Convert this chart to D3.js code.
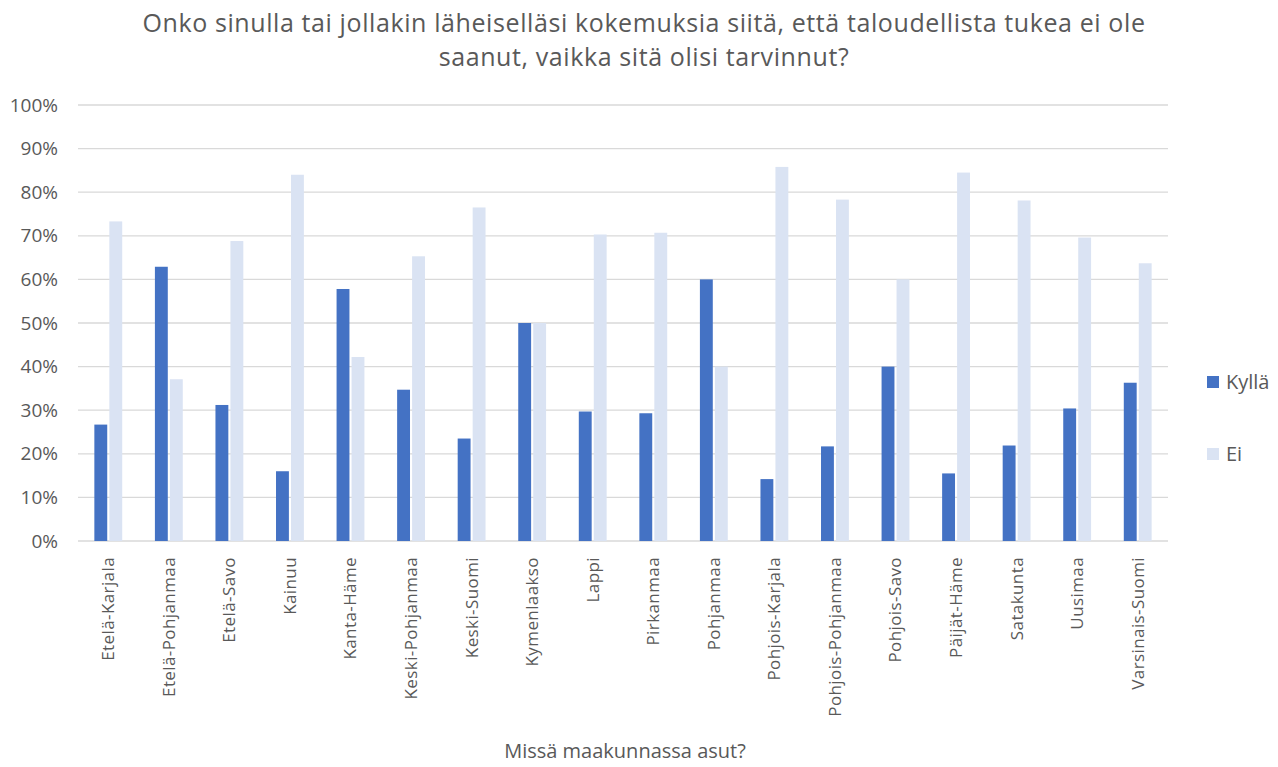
<!doctype html>
<html>
<head>
<meta charset="utf-8">
<title>Taloudellinen tuki</title>
<script src="https://d3js.org/d3.v7.min.js"></script>
<style>
  body { margin: 0; background: #fff; }
  text { font-family: "Open Sans", "Noto Sans", sans-serif; fill: #595959; }
</style>
</head>
<body>
<script>
// data
var regions = ["Etelä-Karjala", "Etelä-Pohjanmaa", "Etelä-Savo", "Kainuu", "Kanta-Häme",
  "Keski-Pohjanmaa", "Keski-Suomi", "Kymenlaakso", "Lappi", "Pirkanmaa", "Pohjanmaa",
  "Pohjois-Karjala", "Pohjois-Pohjanmaa", "Pohjois-Savo", "Päijät-Häme", "Satakunta",
  "Uusimaa", "Varsinais-Suomi"];
var kylla = [0.267, 0.629, 0.312, 0.160, 0.578, 0.347, 0.235, 0.50, 0.297, 0.293, 0.60,
  0.142, 0.217, 0.40, 0.155, 0.219, 0.304, 0.363];
var ei = [0.733, 0.371, 0.688, 0.840, 0.422, 0.653, 0.765, 0.50, 0.703, 0.707, 0.40,
  0.858, 0.783, 0.60, 0.845, 0.781, 0.696, 0.637];
var seriesNames = ["Kyllä", "Ei"];
var yTicks = [0, 0.1, 0.2, 0.3, 0.4, 0.5, 0.6, 0.7, 0.8, 0.9, 1.0];
var titleLines = ["Onko sinulla tai jollakin läheiselläsi kokemuksia siitä, että taloudellista tukea ei ole",
  "saanut, vaikka sitä olisi tarvinnut?"];

var vizWidth = 1278, vizHeight = 767;
var margin = {top: 105, right: 110, bottom: 226, left: 78};
var plotWidth = vizWidth - margin.left - margin.right,
    plotHeight = vizHeight - margin.top - margin.bottom;

var color = d3.scaleOrdinal().domain(seriesNames).range(["#4472C4", "#DAE3F3"]);

var svg = d3.select("body").append("svg")
    .attr("width", vizWidth)
    .attr("height", vizHeight);

// title
svg.append("text")
    .attr("x", 644)
    .attr("y", 32)
    .attr("text-anchor", "middle")
    .attr("font-size", "25px")
    .style("letter-spacing", "0.6px")
    .selectAll("tspan")
    .data(titleLines)
    .enter().append("tspan")
      .attr("x", 644)
      .attr("dy", (d, i) => i === 0 ? 0 : 34)
      .text(d => d);

var plot = svg.append("g")
    .attr("transform", "translate(" + margin.left + "," + margin.top + ")");

var x = d3.scaleBand().domain(regions).range([0, plotWidth]);
var x1 = d3.scaleBand().domain(seriesNames).range([x.bandwidth() * 0.27, x.bandwidth() * 0.73]).paddingInner(0.14);
var y = d3.scaleLinear().domain([0, 1]).range([plotHeight, 0]);

// gridlines
plot.selectAll(".grid")
    .data(yTicks)
    .enter().append("line")
      .attr("x1", 0)
      .attr("x2", plotWidth)
      .attr("y1", d => y(d))
      .attr("y2", d => y(d))
      .attr("stroke", "#D9D9D9")
      .attr("stroke-width", 1.3);

// y axis labels
var yAxis = d3.axisLeft(y).tickValues(yTicks).tickFormat(d3.format(".0%")).tickSize(0).tickPadding(20);
var yg = plot.append("g").call(yAxis);
yg.select(".domain").remove();
yg.selectAll("text").attr("font-size", "19px").attr("fill", "#595959")
    .style("font-family", "'Open Sans', sans-serif");

// bars
var rows = regions.map((r, i) => ({region: r, values: [
  {key: "Kyllä", value: kylla[i]}, {key: "Ei", value: ei[i]}]}));

var groups = plot.selectAll(".cat")
    .data(rows)
    .enter().append("g")
      .attr("transform", d => "translate(" + x(d.region) + ",0)");

groups.selectAll("rect")
    .data(d => d.values)
    .enter().append("rect")
      .attr("x", d => x1(d.key))
      .attr("width", x1.bandwidth())
      .attr("y", d => y(d.value))
      .attr("height", d => plotHeight - y(d.value))
      .attr("fill", d => color(d.key));

// x axis labels
var xAxis = d3.axisBottom(x).tickSize(0).tickPadding(0);
var xg = plot.append("g").attr("transform", "translate(0," + plotHeight + ")").call(xAxis);
xg.select(".domain").remove();
xg.selectAll("text")
    .attr("font-size", "17px")
    .attr("fill", "#595959")
    .style("font-family", "'Open Sans', sans-serif")
    .style("letter-spacing", "0.4px")
    .attr("text-anchor", "end")
    .attr("transform", "rotate(-90)")
    .attr("x", -16)
    .attr("y", 0)
    .attr("dy", "0.35em");

// x axis title
svg.append("text")
    .attr("x", 625)
    .attr("y", 758)
    .attr("text-anchor", "middle")
    .attr("font-size", "20px")
    .text("Missä maakunnassa asut?");

// legend
var legend = svg.selectAll(".legend")
    .data(seriesNames)
    .enter().append("g")
      .attr("transform", (d, i) => "translate(1207," + (382 + i * 72) + ")");
legend.append("rect")
    .attr("x", 0).attr("y", -6)
    .attr("width", 12).attr("height", 12)
    .attr("fill", d => color(d));
legend.append("text")
    .attr("x", 19)
    .attr("y", 0)
    .attr("dy", "0.35em")
    .attr("font-size", "20px")
    .text(d => d);
</script>
</body>
</html>
